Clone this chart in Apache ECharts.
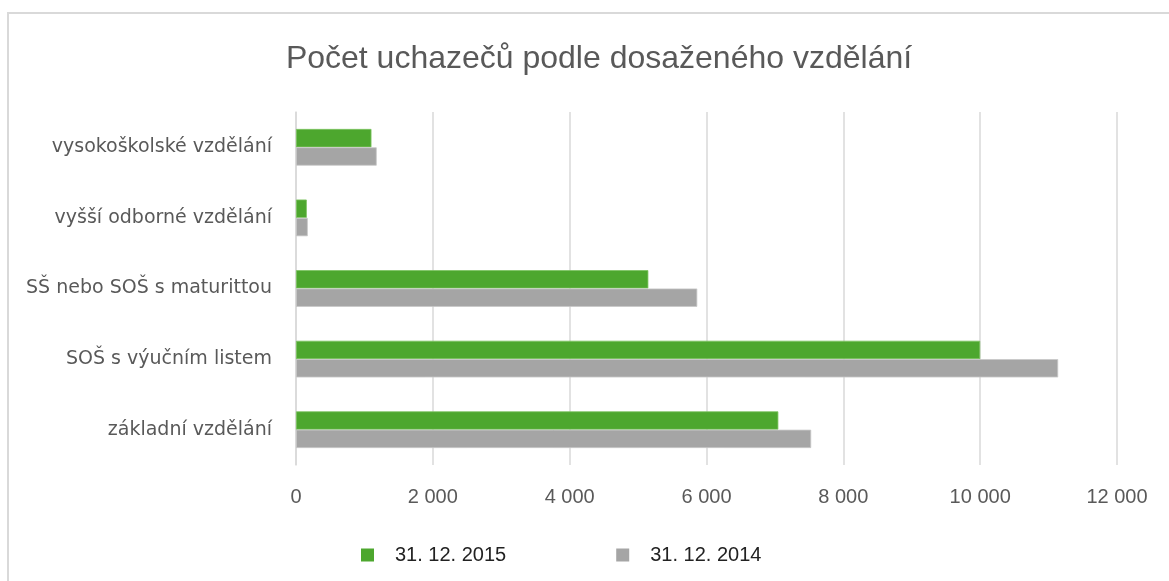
<!DOCTYPE html>
<html>
<head>
<meta charset="utf-8">
<script src="https://cdn.jsdelivr.net/npm/echarts@6/dist/echarts.min.js"></script>
<style>html,body{margin:0;padding:0;background:#fff}#c{width:1169px;height:581px}</style>
</head>
<body>
<div id="c"></div>
<script>
var categories = ['základní vzdělání', 'SOŠ s výučním listem', 'SŠ nebo SOŠ s maturittou', 'vyšší odborné vzdělání', 'vysokoškolské vzdělání'];
var seriesNames = ['31. 12. 2015', '31. 12. 2014'];
var values2015 = [7050, 10000, 5150, 158, 1103];
var values2014 = [7530, 11140, 5865, 172, 1180];
var xTicks = { min: 0, max: 12000, interval: 2000 };

var chart = echarts.init(document.getElementById('c'));
chart.setOption({
  animation: false,
  title: {
    text: 'Počet uchazečů podle dosaženého vzdělání',
    left: 594, top: 38, textAlign: 'center',
    textStyle: { fontFamily: 'Liberation Sans Narrow, Arial Narrow, sans-serif', fontWeight: 'normal', fontSize: 32, color: '#595959' }
  },
  graphic: [{
    type: 'rect', shape: { x: 8, y: 13, width: 1200, height: 620 },
    style: { fill: 'none', stroke: '#d9d9d9', lineWidth: 2 }, silent: true, z: -1
  }],
  legend: {
    data: seriesNames, left: 356, top: 540, itemWidth: 13, itemHeight: 13, itemGap: 110,
    icon: 'rect',
    itemStyle: { borderWidth: 0 },
    textStyle: { fontFamily: 'Liberation Sans Narrow, Arial Narrow, sans-serif', fontSize: 20, color: '#222', padding: [0, 0, 0, 16] }
  },
  grid: { left: 296, right: 52, top: 112, bottom: 116, containLabel: false },
  xAxis: {
    type: 'value', min: xTicks.min, max: xTicks.max, interval: xTicks.interval,
    axisLine: { show: false }, axisTick: { show: false },
    splitLine: { lineStyle: { color: '#d9d9d9', width: 1.5 } },
    axisLabel: {
      margin: 22, color: '#595959', fontSize: 20,
      fontFamily: 'Liberation Sans Narrow, Arial Narrow, sans-serif',
      formatter: function (v) { return String(v).replace(/\B(?=(\d{3})+(?!\d))/g, ' '); }
    }
  },
  yAxis: {
    type: 'category', data: categories,
    axisLine: { show: true, lineStyle: { color: '#d9d9d9', width: 1.5 } }, axisTick: { show: false },
    axisLabel: { margin: 24, color: '#595959', fontSize: 19, fontFamily: 'DejaVu Sans, sans-serif' }
  },
  series: [
    { name: seriesNames[0], type: 'bar', data: values2015, barGap: '0%', barCategoryGap: '48%', itemStyle: { color: '#4da72e', borderColor: '#7cc35f', borderWidth: 0.8 } },
    { name: seriesNames[1], type: 'bar', data: values2014, barGap: '0%', barCategoryGap: '48%', itemStyle: { color: '#a5a5a5', borderColor: '#c8c8c8', borderWidth: 0.8 } }
  ]
});
</script>
</body>
</html>
